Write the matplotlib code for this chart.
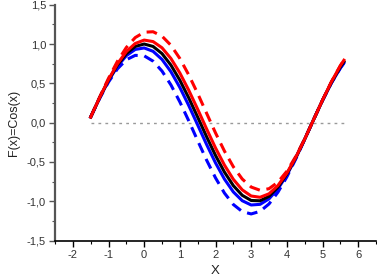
import matplotlib
matplotlib.use('Agg')
import matplotlib.pyplot as plt
from matplotlib.ticker import MultipleLocator

plt.rcParams['font.family'] = ['Liberation Sans', 'DejaVu Sans']
plt.rcParams['axes.unicode_minus'] = False

# values
x = [-1.5, -1.25, -1.0, -0.75, -0.5, -0.25, 0.0, 0.25, 0.5, 0.75, 1.0, 1.25,
     1.5, 1.75, 2.0, 2.25, 2.5, 2.75, 3.0, 3.25, 3.5, 3.75, 4.0, 4.25, 4.5,
     4.75, 5.0, 5.25, 5.5, 5.6]
black = [0.071, 0.315, 0.540, 0.732, 0.878, 0.969, 1.000, 0.969, 0.878, 0.732,
         0.540, 0.315, 0.071, -0.178, -0.416, -0.628, -0.801, -0.924, -0.990,
         -0.994, -0.937, -0.821, -0.654, -0.446, -0.211, 0.038, 0.284, 0.512,
         0.709, 0.776]
red = [0.071, 0.318, 0.548, 0.748, 0.904, 1.007, 1.050, 1.031, 0.952, 0.816,
       0.632, 0.412, 0.171, -0.079, -0.321, -0.539, -0.721, -0.855, -0.933,
       -0.949, -0.905, -0.800, -0.642, -0.441, -0.210, 0.038, 0.286, 0.519,
       0.724, 0.794]
blue = [0.071, 0.312, 0.532, 0.716, 0.852, 0.931, 0.950, 0.907, 0.804, 0.648,
        0.448, 0.218, -0.029, -0.277, -0.511, -0.717, -0.881, -0.993, -1.047,
        -1.039, -0.969, -0.842, -0.666, -0.451, -0.212, 0.038, 0.282, 0.505,
        0.694, 0.758]
red_dash = [0.071, 0.323, 0.564, 0.780, 0.956, 1.082, 1.150, 1.156, 1.100, 0.984,
            0.816, 0.607, 0.371, 0.120, -0.130, -0.361, -0.561, -0.717, -0.819,
            -0.860, -0.840, -0.757, -0.618, -0.430, -0.208, 0.038, 0.286, 0.519,
            0.724, 0.794]
blue_dash = [0.071, 0.307, 0.516, 0.684, 0.800, 0.856, 0.850, 0.782, 0.656, 0.480,
             0.264, 0.023, -0.229, -0.476, -0.702, -0.895, -1.041, -1.131, -1.161,
             -1.128, -1.034, -0.885, -0.690, -0.462, -0.214, 0.038, 0.282, 0.505,
             0.694, 0.758]
zero_x = [-1.5, 5.6]
zero_y = [0.0, 0.0]

xticks = [-2, -1, 0, 1, 2, 3, 4, 5, 6]
yticks = [-1.5, -1.0, -0.5, 0.0, 0.5, 1.0, 1.5]
ytick_labels = ['-1,5', '-1,0', '-0,5', '0,0', '0,5', '1,0', '1,5']

fig = plt.figure(figsize=(3.77, 2.78), dpi=100)
ax = fig.add_axes([55 / 377, 37.4 / 278, 321 / 377, 235.9 / 278])

ax.plot(zero_x, zero_y, color='#999999', lw=1.0, linestyle=(0, (2, 3)))
ax.plot(x, blue_dash, color='#0000ff', lw=2.2, linestyle=(0, (3.5, 2.2)))
ax.plot(x, red_dash, color='#ff0000', lw=2.2, linestyle=(0, (3.5, 2.2)))
ax.plot(x, blue, color='#0000ff', lw=2.2)
ax.plot(x, black, color='black', lw=2.2)
ax.plot(x, red, color='#ff0000', lw=2.2)

ax.set_xlim(-2.5, 6.5)
ax.set_ylim(-1.5, 1.5)
ax.set_xticks(xticks)
ax.set_yticks(yticks)
ax.set_yticklabels(ytick_labels)
ax.xaxis.set_minor_locator(MultipleLocator(0.5))
ax.yaxis.set_minor_locator(MultipleLocator(0.25))

for side in ['top', 'right']:
    ax.spines[side].set_visible(False)
ax.spines['left'].set_color('#555555')
ax.spines['left'].set_linewidth(1.6)
ax.spines['bottom'].set_color('black')
ax.spines['bottom'].set_linewidth(1.2)

ax.tick_params(which='major', direction='out', length=4, width=1,
               labelsize=8, labelcolor='#333333', pad=2.5)
ax.tick_params(which='minor', direction='out', length=2.5, width=0.8)
ax.tick_params(axis='y', which='both', colors='#555555', labelcolor='#333333')

ax.set_xlabel('X', fontsize=9.5, color='#222222', labelpad=4)
ax.set_ylabel('F(x)=Cos(x)', fontsize=9, color='#222222', labelpad=5)

fig.savefig('out.png', dpi=100)
